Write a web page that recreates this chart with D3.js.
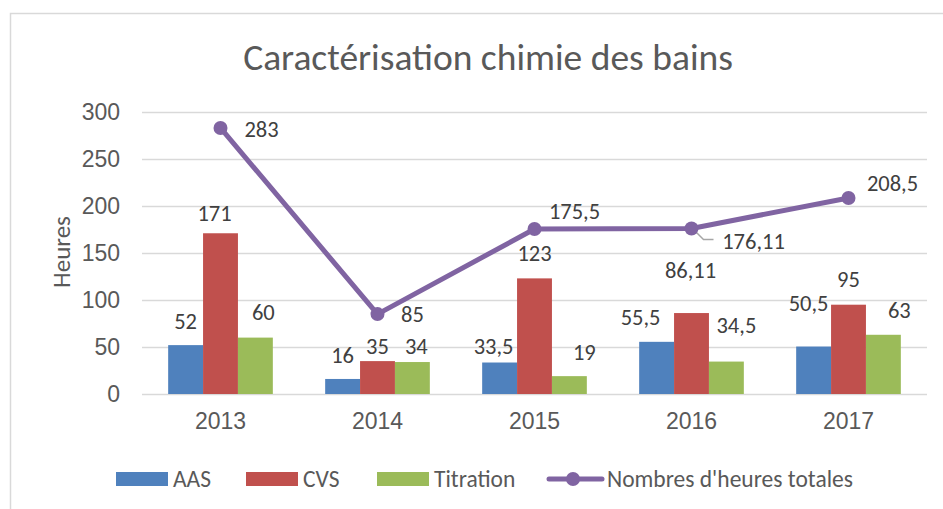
<!DOCTYPE html>
<html>
<head>
<meta charset="utf-8">
<script src="https://cdn.jsdelivr.net/npm/d3@7"></script>
<style>
  html, body { margin: 0; padding: 0; background: #fff; }
  svg { display: block; font-family: Carlito, Calibri, Lato, "Noto Sans", sans-serif; }
</style>
</head>
<body>
<svg id="chart" width="943" height="509"></svg>
<script>
// Heures par année et par type d'analyse
const years = ["2013", "2014", "2015", "2016", "2017"];
const aas = [52, 16, 33.5, 55.5, 50.5];
const cvs = [171, 35, 123, 86.11, 95];
const titration = [60, 34, 19, 34.5, 63];
const totals = [283, 85, 175.5, 176.11, 208.5];
const yTicks = [0, 50, 100, 150, 200, 250, 300];

const seriesNames = ["AAS", "CVS", "Titration"];
const lineName = "Nombres d'heures totales";
const colors = { AAS: "#4F81BD", CVS: "#C0504D", Titration: "#9BBB59", line: "#8064A2" };

// Décalages des étiquettes de données (dx, dy) par série
const barLabelShift = {
  AAS:       [[0, -24], [0, -24], [-6, -16], [-16, -25], [-5, -43]],
  CVS:       [[-6, -20], [0, -15], [0, -25], [-1, -43], [0, -26]],
  Titration: [[8, -25], [4, -16], [15, -24], [10, -36], [16, -25]]
};
const lineLabelShift = [[41, 1], [35, 0], [40, -18], [62, 13], [44, -15]];

const fmt = v => String(v).replace(".", ",");

const svg = d3.select("#chart");
const W = 943, H = 509;
const plot = { left: 142, right: 927, top: 112, bottom: 394 };

// cadre du graphique (bords gauche et haut visibles)
svg.append("path")
  .attr("d", `M10.5,${H} V13.5 H${W}`)
  .attr("fill", "none").attr("stroke", "#D9D9D9").attr("stroke-width", 1.5);

svg.append("text")
  .attr("x", 488).attr("y", 70)
  .attr("text-anchor", "middle")
  .attr("font-size", 37.5).attr("fill", "#595959")
  .text("Caractérisation chimie des bains");

const x = d3.scaleBand().domain(years).range([plot.left, plot.right]).paddingInner(0).paddingOuter(0);
const y = d3.scaleLinear().domain([0, 300]).range([plot.bottom, plot.top]);
const inner = d3.scaleBand().domain(seriesNames)
  .range([0, x.bandwidth()]).paddingInner(0).paddingOuter(0.75);

// quadrillage horizontal
svg.append("g")
  .selectAll("line").data(yTicks).join("line")
  .attr("x1", plot.left).attr("x2", plot.right)
  .attr("y1", d => Math.round(y(d)) + 0.5).attr("y2", d => Math.round(y(d)) + 0.5)
  .attr("stroke", "#D9D9D9").attr("stroke-width", 1.5);

// axe Y
const yAxis = svg.append("g")
  .attr("transform", `translate(${plot.left},0)`)
  .call(d3.axisLeft(y).tickValues(yTicks).tickSize(0).tickPadding(22));
yAxis.select(".domain").remove();
yAxis.selectAll("text").attr("font-size", 23).attr("fill", "#595959").attr("font-family", null);

// axe X
const xAxis = svg.append("g")
  .attr("transform", `translate(0,${plot.bottom})`)
  .call(d3.axisBottom(x).tickSize(0).tickPadding(19));
xAxis.select(".domain").remove();
xAxis.selectAll("text").attr("font-size", 23).attr("fill", "#595959").attr("font-family", null);

svg.append("text")
  .attr("transform", `translate(70,252) rotate(-90)`)
  .attr("text-anchor", "middle")
  .attr("font-size", 25).attr("fill", "#595959")
  .text("Heures");

// barres
const seriesData = { AAS: aas, CVS: cvs, Titration: titration };
seriesNames.forEach(name => {
  const vals = seriesData[name];
  const g = svg.append("g");
  g.selectAll("rect").data(vals).join("rect")
    .attr("x", (d, i) => x(years[i]) + inner(name))
    .attr("y", d => y(d))
    .attr("width", inner.bandwidth())
    .attr("height", d => y(0) - y(d))
    .attr("fill", colors[name]);
  g.selectAll("text").data(vals).join("text")
    .attr("x", (d, i) => x(years[i]) + inner(name) + inner.bandwidth() / 2 + barLabelShift[name][i][0])
    .attr("y", (d, i) => y(d) + barLabelShift[name][i][1])
    .attr("dy", "0.35em")
    .attr("text-anchor", "middle")
    .attr("font-size", 22.5).attr("fill", "#404040")
    .text(d => fmt(d));
});

// courbe des heures totales
const cx = i => x(years[i]) + x.bandwidth() / 2;
const line = d3.line().x((d, i) => cx(i)).y(d => y(d));
svg.append("path")
  .datum(totals)
  .attr("d", line)
  .attr("fill", "none")
  .attr("stroke", colors.line).attr("stroke-width", 5)
  .attr("stroke-linejoin", "round");

// ligne de rappel pour 176,11
const li = 3;
svg.append("path")
  .attr("d", `M${cx(li) + 4},${y(totals[li]) + 3} L${cx(li) + 12},${y(totals[li]) + 11} H${cx(li) + 22}`)
  .attr("fill", "none").attr("stroke", "#A6A6A6").attr("stroke-width", 1.5);

svg.append("g").selectAll("circle").data(totals).join("circle")
  .attr("cx", (d, i) => cx(i)).attr("cy", d => y(d))
  .attr("r", 7).attr("fill", colors.line);

svg.append("g").selectAll("text").data(totals).join("text")
  .attr("x", (d, i) => cx(i) + lineLabelShift[i][0])
  .attr("y", (d, i) => y(d) + lineLabelShift[i][1])
  .attr("dy", "0.35em")
  .attr("text-anchor", "middle")
  .attr("font-size", 22.5).attr("fill", "#404040")
  .text(d => fmt(d));

// légende
const legend = svg.append("g").attr("transform", "translate(0,479)");
const legItems = [
  { name: "AAS", x: 116 },
  { name: "CVS", x: 246 },
  { name: "Titration", x: 377 }
];
legItems.forEach(it => {
  legend.append("rect").attr("x", it.x).attr("y", -7).attr("width", 52).attr("height", 14)
    .attr("fill", colors[it.name]);
  legend.append("text").attr("x", it.x + 57).attr("y", 0).attr("dy", "0.35em")
    .attr("font-size", 23.5).attr("fill", "#595959").text(it.name);
});
legend.append("line").attr("x1", 549).attr("x2", 602).attr("y1", 0).attr("y2", 0)
  .attr("stroke", colors.line).attr("stroke-width", 5).attr("stroke-linecap", "round");
legend.append("circle").attr("cx", 573).attr("cy", 0).attr("r", 7).attr("fill", colors.line);
legend.append("text").attr("x", 607).attr("y", 0).attr("dy", "0.35em")
  .attr("font-size", 23.5).attr("fill", "#595959").text(lineName);
</script>
</body>
</html>
